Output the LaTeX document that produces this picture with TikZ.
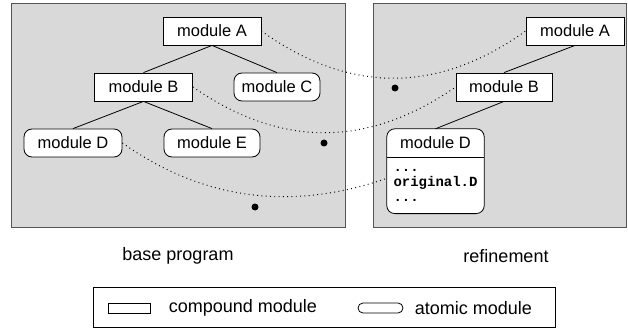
\documentclass[tikz,border=0pt]{standalone}
\usepackage{fontspec}
\setmainfont{Liberation Sans}
\setmonofont{Liberation Mono}
\usepackage{xcolor}
\definecolor{cPanel}{HTML}{D9D9D9}
\definecolor{cFrame}{HTML}{555555}
\usetikzlibrary{positioning,calc}
\tikzset{
  mod-compound/.style={draw,fill=white,line width=0.8pt,inner sep=0pt,
    minimum width=98pt,minimum height=28pt,font=\fontsize{16.5}{18}\selectfont},
  mod-atomic/.style={mod-compound,rounded corners=8pt},
  panel/.style={draw=cFrame,fill=cPanel,line width=1pt},
  tree/.style={draw,line width=0.8pt},
  link/.style={line width=1pt,dash pattern=on 0.9pt off 3.4pt},
  dot/.style={circle,fill=black,inner sep=0pt,minimum size=7pt},
  caption/.style={font=\fontsize{18}{20}\selectfont},
  key-box/.style={draw,line width=0.8pt,minimum width=42pt,minimum height=10pt,inner sep=0pt},
}

\begin{document}
\begin{tikzpicture}[x=1pt,y=-1pt]
  \useasboundingbox (0,0) rectangle (628,331);
  % panels
  \draw[panel] (11,4) rectangle (345,227);
  \draw[panel] (373,4) rectangle (626,227);

  % base program
  \node[mod-compound] (a) at (212,31) {module A};
  \node[mod-compound] (b) at (143.5,87) {module B};
  \node[mod-atomic,minimum width=86pt] (c) at (277,87) {module C};
  \node[mod-atomic] (d) at (73,143) {module D};
  \node[mod-atomic,minimum width=96pt] (e) at (212,143) {module E};
  \draw[tree] (a.south) -- (b.north);
  \draw[tree] (a.south) -- (c.north);
  \draw[tree] (b.south) -- (d.north);
  \draw[tree] (b.south) -- (e.north);

  % refinement
  \node[mod-compound] (ra) at (575,31) {module A};
  \node[mod-compound,minimum width=96pt] (rb) at (504,87) {module B};
  \node[minimum width=97pt,minimum height=28pt,inner sep=0pt] (rd) at (435.5,143) {};
  \node[below=0pt of rd,minimum width=97pt,minimum height=56pt,inner sep=0pt] (rdbody) {};
  \draw[fill=white,line width=0.8pt,rounded corners=8pt] (rd.north west) rectangle (rdbody.south east);
  \draw[line width=0.8pt] (rd.south west) -- (rd.south east);
  \node[font=\fontsize{16.5}{18}\selectfont] (rdname) at (rd) {module D};
  \node[font=\fontsize{14}{15}\selectfont\ttfamily\bfseries,align=left,inner sep=0pt]
    (rdtext) at (rdbody) {...\\original.D\\...};
  \coordinate (rdin) at ($(rdbody.north west)!0.375!(rdbody.south west)$);
  \draw[tree] (ra.south) -- (rb.north);
  \draw[tree] (rb.south) -- (rd.north);

  % links between the two programs
  \draw[link] (a.east) .. controls +(88,63) and +(-88,63) .. (ra.west);
  \draw[link] (b.east) .. controls +(88,61) and +(-88,61) .. (rb.west);
  \draw[link] (d.east) .. controls +(88,62) and +(-87,30) .. (rdin);
  \node[dot] (m1) at (395,88) {};
  \node[dot] (m2) at (324,143) {};
  \node[dot] (m3) at (255,207) {};

  % captions and key
  \node[caption] (base) at (178,256) {base program};
  \node[caption] (refi) at (506,256) {refinement};
  \node[draw,line width=0.8pt,minimum width=462pt,minimum height=40pt,inner sep=0pt] (key) at (324,307) {};
  \node[key-box] (kc) at (129,308) {};
  \node[caption,right=15pt of kc] (kct) {compound module};
  \node[key-box,rounded corners=5pt,minimum width=45pt] (ka) at (380.5,308) {};
  \node[caption,right=8pt of ka] (kat) {atomic module};
\end{tikzpicture}
\end{document}
